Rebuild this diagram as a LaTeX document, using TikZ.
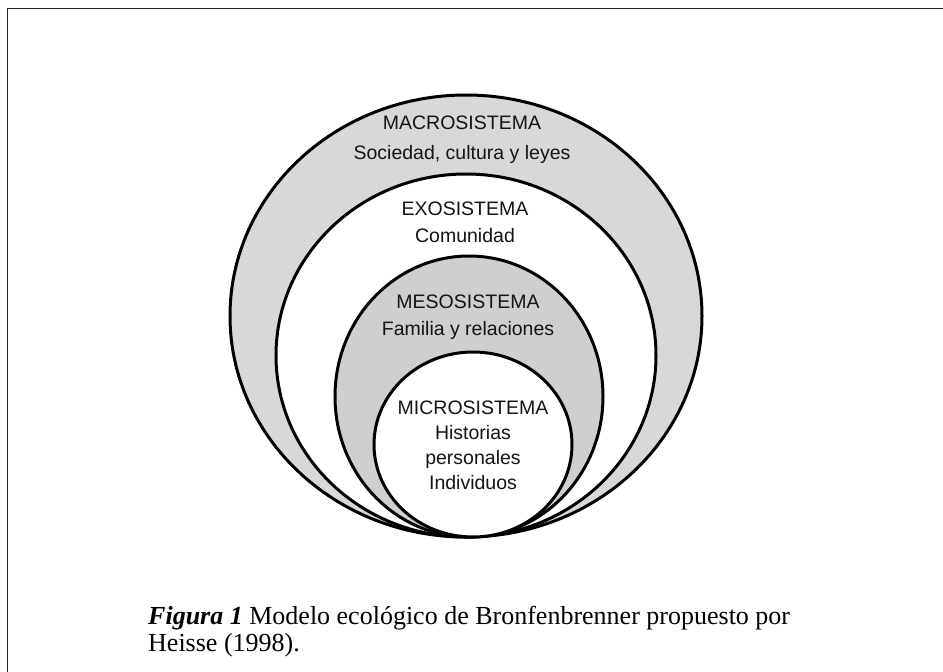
\documentclass[tikz,border=0pt]{standalone}
\usepackage{fontspec}
\setmainfont{Liberation Serif}
\newfontfamily\sysfont{Liberation Sans}
\usepackage{tikz}
\usetikzlibrary{positioning}
\definecolor{ringgray}{RGB}{216,216,216}
\definecolor{mesogray}{RGB}{207,207,207}
\newcommand{\lbl}[1]{\fontsize{19.5}{#1}\sysfont\selectfont}
\newcommand{\capf}{\fontsize{26}{29}\selectfont}

\begin{document}
\begin{tikzpicture}[x=1pt,y=-1pt,
    ring/.style={draw=black,line width=3pt},
    sislabel/.style={inner sep=0pt,align=center,text=black!92},
    capline/.style={inner sep=0pt,anchor=base west,font=\capf}]
  \useasboundingbox (0,0) rectangle (943,672);
  \draw[line width=1.6pt,black!85] (7.5,672) -- (7.5,8.5) -- (943,8.5);
  % nested circles, all touching at the bottom
  \draw[ring,fill=ringgray] (466,316) ellipse [x radius=236,y radius=221];
  \draw[ring,fill=white] (466,355.5) ellipse [x radius=190,y radius=181.5];
  \draw[ring,fill=mesogray] (469,396.5) ellipse [x radius=134,y radius=140.5];
  \draw[ring,fill=white] (473,444.5) ellipse [x radius=99,y radius=92.5];
  \node[sislabel,font=\lbl{30}] (macro) at (462,140) {MACROSISTEMA\\Sociedad, cultura y leyes};
  \node[sislabel,font=\lbl{27}] (exo) at (465,222.5) {EXOSISTEMA\\Comunidad};
  \node[sislabel,font=\lbl{27}] (meso) at (468,317) {MESOSISTEMA\\Familia y relaciones};
  \node[sislabel,font=\lbl{25}] (micro) at (473,445) {MICROSISTEMA\\Historias\\personales\\Individuos};
  \node[capline] (cap1) at (148,624) {\textbf{\textit{Figura 1}} Modelo ecológico de Bronfenbrenner propuesto por};
  \node[capline] (cap2) at (148,651) {Heisse (1998).};
\end{tikzpicture}
\end{document}
